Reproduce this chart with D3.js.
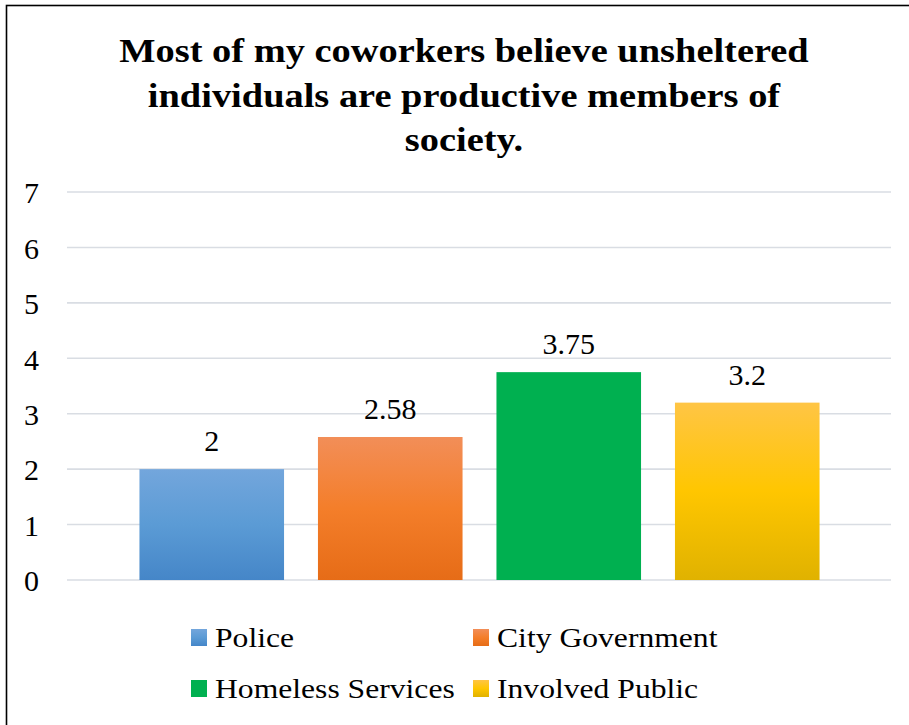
<!DOCTYPE html>
<html>
<head>
<meta charset="utf-8">
<script src="https://cdn.jsdelivr.net/npm/d3@7"></script>
<style>
  html, body { margin: 0; padding: 0; background: #fff; }
  svg { display: block; }
</style>
</head>
<body>
<svg id="chart" width="909" height="725"></svg>
<script>
// Survey responses by group
const categories = ["Police", "City Government", "Homeless Services", "Involved Public"];
const values = [2, 2.58, 3.75, 3.2];
const valueLabels = ["2", "2.58", "3.75", "3.2"];
const yTicks = [0, 1, 2, 3, 4, 5, 6, 7];
const titleLines = [
  "Most of my coworkers believe unsheltered",
  "individuals are productive members of",
  "society."
];

const FONT = "'Liberation Serif', 'Times New Roman', Times, serif";
const STRETCH = 1.13; // horizontal widening of title and legend text

// gradient stops per group: top, middle, bottom
const palette = [
  ["#73a6dc", "#5b9bd5", "#4586c8"],
  ["#f28e58", "#f47e2a", "#e66c17"],
  ["#00b050", "#00b050", "#00b050"],
  ["#ffc545", "#ffc600", "#e0b200"]
];

const svg = d3.select("#chart");
const W = 909, H = 725;

// outer frame
svg.append("rect")
  .attr("x", 6.5).attr("y", 5.5)
  .attr("width", W + 10).attr("height", H + 10)
  .attr("fill", "#fff").attr("stroke", "#000").attr("stroke-width", 1.6);

const defs = svg.append("defs");
palette.forEach((p, i) => {
  const g = defs.append("linearGradient")
    .attr("id", "grad" + i)
    .attr("x1", 0).attr("y1", 0).attr("x2", 0).attr("y2", 1);
  g.append("stop").attr("offset", "0%").attr("stop-color", p[0]);
  g.append("stop").attr("offset", "50%").attr("stop-color", p[1]);
  g.append("stop").attr("offset", "100%").attr("stop-color", p[2]);
});

// title
svg.append("g").selectAll("text").data(titleLines).join("text")
  .attr("transform", (d, i) => `translate(464,${62 + i * 44.5}) scale(${STRETCH},1)`)
  .attr("text-anchor", "middle")
  .style("font-family", FONT)
  .attr("font-size", 34).attr("font-weight", "bold")
  .attr("fill", "#000")
  .text(d => d);

const y = d3.scaleLinear().domain([0, 7]).range([580, 192]);
const x = d3.scaleBand().domain(categories)
  .range([122.5, 836.5]).paddingInner(0.19).paddingOuter(0.095);

const gridLeft = 67, gridRight = 891;

// gridlines
svg.append("g").selectAll("line").data(yTicks).join("line")
  .attr("x1", gridLeft).attr("x2", gridRight)
  .attr("y1", d => y(d)).attr("y2", d => y(d))
  .attr("stroke", "#d9dde3").attr("stroke-width", 1.6);

// y axis labels
const yAxis = d3.axisLeft(y).tickValues(yTicks).tickSize(0).tickPadding(0).tickFormat(d3.format("d"));
const ya = svg.append("g").attr("transform", "translate(39,0)").call(yAxis);
ya.select(".domain").remove();
ya.selectAll("text")
  .style("font-family", FONT)
  .attr("font-size", 30)
  .attr("fill", "#000")
  .attr("dy", "0.36em");

// bars
svg.append("g").selectAll("rect").data(values).join("rect")
  .attr("x", (d, i) => x(categories[i]))
  .attr("width", x.bandwidth())
  .attr("y", d => y(d))
  .attr("height", d => y(0) - y(d))
  .attr("fill", (d, i) => `url(#grad${i})`);

// value labels
svg.append("g").selectAll("text").data(values).join("text")
  .attr("x", (d, i) => x(categories[i]) + x.bandwidth() / 2)
  .attr("y", d => y(d) - 18)
  .attr("text-anchor", "middle")
  .style("font-family", FONT)
  .attr("font-size", 30)
  .attr("fill", "#000")
  .text((d, i) => valueLabels[i]);

// legend in two rows of two
const legendPos = [
  [191, 647], [473, 647],
  [191, 698], [473, 698]
];
const lg = svg.append("g").selectAll("g").data(categories).join("g")
  .attr("transform", (d, i) => `translate(${legendPos[i][0]},${legendPos[i][1]})`);
lg.append("rect")
  .attr("x", 0).attr("y", -18).attr("width", 16).attr("height", 17)
  .attr("fill", (d, i) => `url(#grad${i})`);
lg.append("text")
  .attr("transform", `translate(24,0) scale(${STRETCH},1)`)
  .style("font-family", FONT)
  .attr("font-size", 28)
  .attr("fill", "#000")
  .text(d => d);
</script>
</body>
</html>
